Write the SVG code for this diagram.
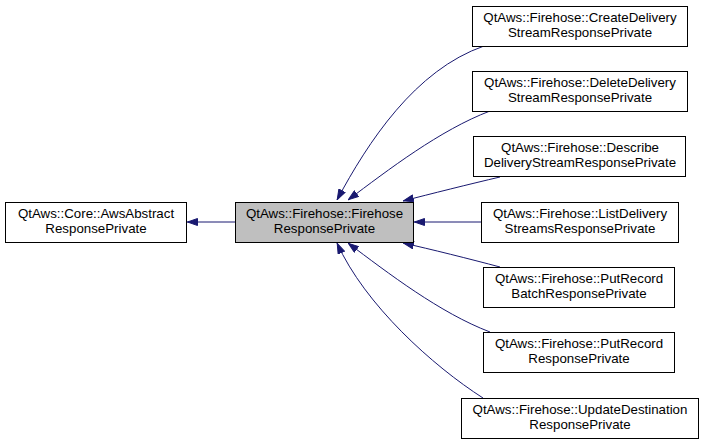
<svg xmlns="http://www.w3.org/2000/svg" width="703" height="444" viewBox="0 0 703 444">
<style>
.box{fill:#ffffff;stroke:#000000;stroke-width:1}
.cur{fill:#bfbfbf;stroke:#000000;stroke-width:1}
text{font-family:"Liberation Sans",Arial,Helvetica,sans-serif;font-size:13.3px;fill:#000000;text-anchor:middle}
.e{fill:none;stroke:#191970;stroke-width:1;marker-end:url(#arr)}
</style>
<defs>
<marker id="arr" viewBox="0 0 11 8" refX="11" refY="4" markerWidth="11" markerHeight="8" orient="auto" markerUnits="userSpaceOnUse">
<path d="M0.5,0.5 L10.5,4 L0.5,7.5 z" fill="#191970" stroke="#191970" stroke-width="1"/>
</marker>
</defs>
<rect width="703" height="444" fill="#ffffff"/>
<g id="connectors">
<path class="e" d="M235,222 L187,222"/>
<path class="e" d="M484,46 C415,70 368,142 337,200"/>
<path class="e" d="M490,111 C440,130 388,170 348,200"/>
<path class="e" d="M500,177 C470,184 430,194 403,201"/>
<path class="e" d="M481,222 L414,222"/>
<path class="e" d="M500,267 C470,259 430,249 403,243"/>
<path class="e" d="M490,332 C440,313 388,273 348,243"/>
<path class="e" d="M483,398 C433,366 365,305 337,243"/>
</g>
<g id="node-core">
<rect class="box" x="5.5" y="202.5" width="181" height="40"/>
<text x="96" y="217.5">QtAws::Core::AwsAbstract</text>
<text x="96" y="232.5">ResponsePrivate</text>
</g>
<g id="node-firehose">
<rect class="cur" x="235.5" y="202.5" width="178" height="40"/>
<text x="324.5" y="217.5">QtAws::Firehose::Firehose</text>
<text x="324.5" y="232.5">ResponsePrivate</text>
</g>
<g id="node-create">
<rect class="box" x="472.5" y="6.5" width="215" height="40"/>
<text x="580" y="21.5">QtAws::Firehose::CreateDelivery</text>
<text x="580" y="36.5">StreamResponsePrivate</text>
</g>
<g id="node-delete">
<rect class="box" x="472.5" y="71.5" width="215" height="40"/>
<text x="580" y="86.5">QtAws::Firehose::DeleteDelivery</text>
<text x="580" y="101.5">StreamResponsePrivate</text>
</g>
<g id="node-describe">
<rect class="box" x="473.5" y="136.5" width="212" height="40"/>
<text x="580" y="151.5">QtAws::Firehose::Describe</text>
<text x="580" y="166.5">DeliveryStreamResponsePrivate</text>
</g>
<g id="node-list">
<rect class="box" x="481.5" y="202.5" width="197" height="40"/>
<text x="580" y="217.5">QtAws::Firehose::ListDelivery</text>
<text x="580" y="232.5">StreamsResponsePrivate</text>
</g>
<g id="node-putbatch">
<rect class="box" x="483.5" y="267.5" width="191" height="40"/>
<text x="579" y="282.5">QtAws::Firehose::PutRecord</text>
<text x="579" y="297.5">BatchResponsePrivate</text>
</g>
<g id="node-put">
<rect class="box" x="483.5" y="332.5" width="191" height="40"/>
<text x="579" y="347.5">QtAws::Firehose::PutRecord</text>
<text x="579" y="362.5">ResponsePrivate</text>
</g>
<g id="node-update">
<rect class="box" x="461.5" y="398.5" width="237" height="40"/>
<text x="580" y="413.5">QtAws::Firehose::UpdateDestination</text>
<text x="580" y="428.5">ResponsePrivate</text>
</g>
</svg>
